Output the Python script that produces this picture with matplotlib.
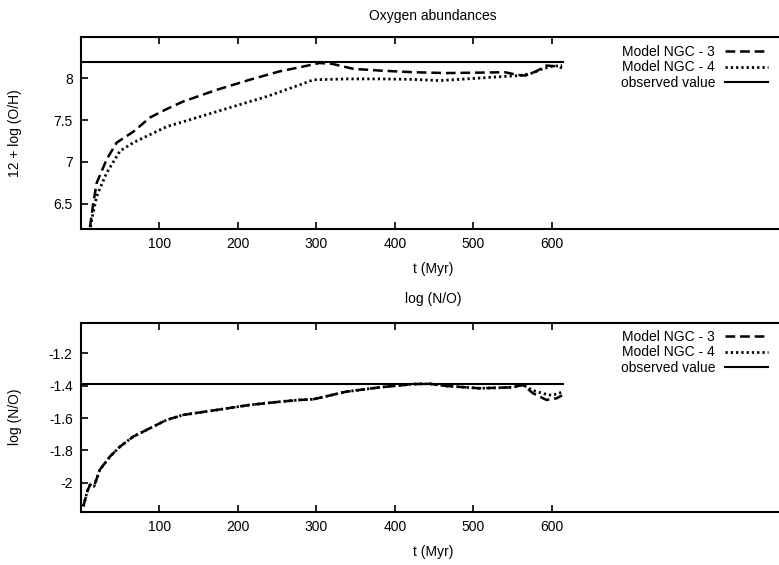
import numpy as np
import matplotlib
matplotlib.use("Agg")
import matplotlib.pyplot as plt

plt.rcParams['font.family'] = ['Liberation Sans', 'DejaVu Sans']
plt.rcParams['font.size'] = 10
plt.rcParams['lines.scale_dashes'] = False

# Oxygen abundance, 12 + log(O/H)
oh_t3 = [8, 11.5, 15.7, 20, 32.7, 45.4, 66.6, 88, 109, 130, 173, 215, 253, 279,
         304, 320, 347, 380, 423, 466, 508, 540, 555, 566, 580, 593, 606, 613]
oh_v3 = [6.05, 6.23, 6.51, 6.75, 7.03, 7.23, 7.36, 7.53, 7.63, 7.72, 7.86, 7.98, 8.08, 8.13,
         8.18, 8.17, 8.11, 8.09, 8.07, 8.06, 8.065, 8.07, 8.04, 8.03, 8.08, 8.15, 8.14, 8.12]
oh_t4 = [10, 13.6, 20, 32.7, 49.7, 66.6, 109, 151.6, 194, 236.5, 279, 296, 340, 381,
         420, 457, 508, 540, 560, 575, 585, 600, 613]
oh_v4 = [6.1, 6.31, 6.59, 6.87, 7.13, 7.23, 7.42, 7.54, 7.66, 7.78, 7.92, 7.98, 7.99, 7.99,
         7.985, 7.97, 8.0, 8.02, 8.03, 8.06, 8.1, 8.14, 8.15]
oh_obs = 8.19

# log(N/O)
no_t3 = [3, 8, 11.5, 16.6, 24, 37, 49.7, 66.6, 88, 109, 130, 173, 215, 253.5, 279, 296,
         338, 381, 423, 444, 466, 508, 550, 563, 576, 593, 606, 613]
no_v3 = [-2.147, -2.054, -2.013, -2.023, -1.92, -1.838, -1.777, -1.715, -1.663, -1.612,
         -1.581, -1.55, -1.519, -1.499, -1.488, -1.484, -1.437, -1.41, -1.39, -1.388,
         -1.402, -1.416, -1.41, -1.395, -1.447, -1.488, -1.478, -1.46]
no_t4 = [3, 8, 11.5, 16.6, 24, 37, 49.7, 66.6, 88, 109, 130, 173, 215, 253.5, 279, 296,
         338, 381, 423, 444, 466, 508, 550, 563, 576, 590, 600, 613]
no_v4 = [-2.147, -2.054, -2.013, -2.023, -1.92, -1.838, -1.777, -1.715, -1.663, -1.612,
         -1.581, -1.55, -1.519, -1.499, -1.488, -1.484, -1.437, -1.41, -1.39, -1.388,
         -1.402, -1.416, -1.41, -1.395, -1.43, -1.45, -1.46, -1.44]
no_obs = -1.39

obs_t = [0, 614]
x_ticks = [100, 200, 300, 400, 500, 600]
oh_ticks = [6.5, 7, 7.5, 8]
oh_labels = ['6.5', '7', '7.5', '8']
no_ticks = [-2, -1.8, -1.6, -1.4, -1.2]
no_labels = ['-2', '-1.8', '-1.6', '-1.4', '-1.2']

W, H = 779, 565
fig = plt.figure(figsize=(W / 100, H / 100), dpi=100)
ax1 = fig.add_axes([81 / W, 1 - 229 / H, 704 / W, 192 / H])
ax2 = fig.add_axes([81 / W, 1 - 511.7 / H, 704 / W, 189 / H])

dash = (0, (7, 3.5))
dot = (0, (1.6, 2.2))

ax1.plot(oh_t3, oh_v3, color='black', lw=1.8, linestyle=dash, label='Model NGC - 3')
ax1.plot(oh_t4, oh_v4, color='black', lw=2.0, linestyle=dot, label='Model NGC - 4')
ax1.plot(obs_t, [oh_obs, oh_obs], color='black', lw=1.5, label='observed value')
ax1.set_ylim(6.2, 8.49)

ax2.plot(no_t3, no_v3, color='black', lw=1.8, linestyle=dash, label='Model NGC - 3')
ax2.plot(no_t4, no_v4, color='black', lw=2.0, linestyle=dot, label='Model NGC - 4')
ax2.plot(obs_t, [no_obs, no_obs], color='black', lw=1.5, label='observed value')
ax2.set_ylim(-2.18, -1.01)

panels = [
    (ax1, oh_ticks, oh_labels, 'Oxygen abundances', 12, '12 + log (O/H)', 45),
    (ax2, no_ticks, no_labels, 'log (N/O)', 14, 'log (N/O)', 330),
]
for ax, yt, ylab, title, tpad, ylabel, top in panels:
    ax.set_xlim(0, 897)
    ax.set_xticks(x_ticks)
    ax.set_yticks(yt)
    ax.set_yticklabels(ylab)
    for s in ax.spines.values():
        s.set_linewidth(1.5)
    ax.tick_params(direction='in', length=5, width=1.2, top=True, right=False, pad=6,
                   labelsize=10)
    ax.set_xlabel('t (Myr)', labelpad=8)
    ax.set_ylabel(ylabel)
    ax.yaxis.set_label_coords(-0.084, 0.5)
    ax.set_title(title, fontsize=10, pad=tpad)
    ax.legend(loc='upper right', frameon=False, markerfirst=False,
              bbox_to_anchor=(768 / W, 1 - top / H), bbox_transform=fig.transFigure,
              borderpad=0, borderaxespad=0, handlelength=3.1, handletextpad=0.7,
              labelspacing=0.1, fontsize=10)

fig.savefig('out.png', dpi=100)
